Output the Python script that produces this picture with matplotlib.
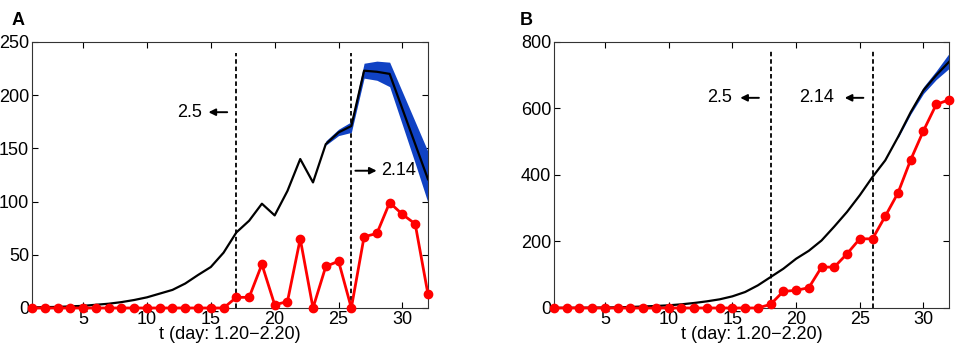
import numpy as np
import matplotlib
matplotlib.use("Agg")
import matplotlib.pyplot as plt

plt.rcParams.update({
    "font.family": ["Liberation Sans", "DejaVu Sans"],
    "font.size": 13,
    "axes.linewidth": 0.8,
    "axes.edgecolor": "#333333",
    "xtick.direction": "in",
    "ytick.direction": "in",
    "xtick.top": True,
    "ytick.right": True,
    "xtick.major.size": 4,
    "ytick.major.size": 4,
})

BLUE = "#1042c4"
RED = "#ff0000"

days = np.arange(1, 33)

# ---- panel A (daily) ----
a_model = [0.5, 0.8, 1.0, 1.5, 2.0, 3.0, 4.0, 5.5, 7.5, 10, 13.5, 17, 23, 31, 38.5, 52,
           71, 82, 98, 87, 110, 140, 118, 154, 165, 171, 223, 222, 220, 187, 154, 121]
a_obs = [0, 0, 0, 0, 0, 0, 0, 0, 0, 0, 0, 0, 0, 0, 0, 0,
         10, 10, 41, 3, 6, 65, 0, 39, 44, 0, 67, 70, 99, 88, 79, 13]
a_band_x = [24, 25, 26, 27, 28, 29, 30, 31, 32]
a_band_lo = [153, 162, 165, 216, 214, 208, 172, 136, 99]
a_band_hi = [157, 168, 175, 230, 232, 231, 203, 175, 147]

# ---- panel B (cumulative) ----
b_model = [0.3, 0.5, 0.8, 1.0, 1.5, 2.0, 3.0, 4.5, 6, 8, 11, 15, 20, 26, 35, 48,
           68, 93, 118, 148, 172, 203, 245, 289, 339, 394, 444, 514, 589, 655, 700, 740]
b_obs = [0, 0, 0, 0, 0, 0, 0, 0, 0, 0, 0, 0, 0, 0, 0, 0,
         0, 11, 50, 53, 61, 123, 123, 163, 208, 208, 276, 346, 446, 533, 612, 626]
b_band_x = [28, 29, 30, 31, 32]
b_band_lo = [511, 583, 645, 687, 720]
b_band_hi = [517, 595, 665, 713, 765]

xticks = [5, 10, 15, 20, 25, 30]
xlabel = "t (day: 1.20\u22122.20)"

fig = plt.figure(figsize=(9.57, 3.48), dpi=100)
axA = fig.add_axes([0.0334, 0.115, 0.4138, 0.7644])
axB = fig.add_axes([0.5789, 0.115, 0.4127, 0.7644])


def draw(ax, model, obs, bx, blo, bhi, ymax, yticks, vlines, vtop):
    ax.fill_between(bx, blo, bhi, color=BLUE, lw=0, zorder=2)
    ax.plot(days, model, color="black", lw=1.6, zorder=3)
    ax.plot(days, obs, "-o", color=RED, lw=2.0, ms=6, zorder=4, clip_on=False)
    for v in vlines:
        ax.plot([v, v], [0, vtop], color="black", ls=(0, (2.5, 1.6)), lw=1.3, zorder=1)
    ax.set_xlim(1, 32)
    ax.set_ylim(0, ymax)
    ax.set_xticks(xticks)
    ax.set_yticks(yticks)
    ax.tick_params(pad=2)
    ax.set_xlabel(xlabel, labelpad=-1)


draw(axA, a_model, a_obs, a_band_x, a_band_lo, a_band_hi, 250,
     [0, 50, 100, 150, 200, 250], [17, 26], 240)
draw(axB, b_model, b_obs, b_band_x, b_band_lo, b_band_hi, 800,
     [0, 200, 400, 600, 800], [18, 26], 780)

arrow = dict(arrowstyle="-|>", color="black", lw=1.4, mutation_scale=10)
# A annotations
axA.text(14.3, 184, "2.5", ha="right", va="center")
axA.annotate("", xy=(14.6, 184), xytext=(16.5, 184), arrowprops=arrow)
axA.annotate("", xy=(28.2, 129), xytext=(26.1, 129), arrowprops=arrow)
axA.text(28.3, 129, "2.14", ha="left", va="center")
# B annotations
axB.text(15.0, 632, "2.5", ha="right", va="center")
axB.annotate("", xy=(15.4, 632), xytext=(17.3, 632), arrowprops=arrow)
axB.text(23.0, 632, "2.14", ha="right", va="center")
axB.annotate("", xy=(23.6, 632), xytext=(25.5, 632), arrowprops=arrow)

fig.text(0.012, 0.965, "A", fontweight="bold", fontsize=13, va="top")
fig.text(0.543, 0.965, "B", fontweight="bold", fontsize=13, va="top")

fig.savefig("out.png", dpi=100)
